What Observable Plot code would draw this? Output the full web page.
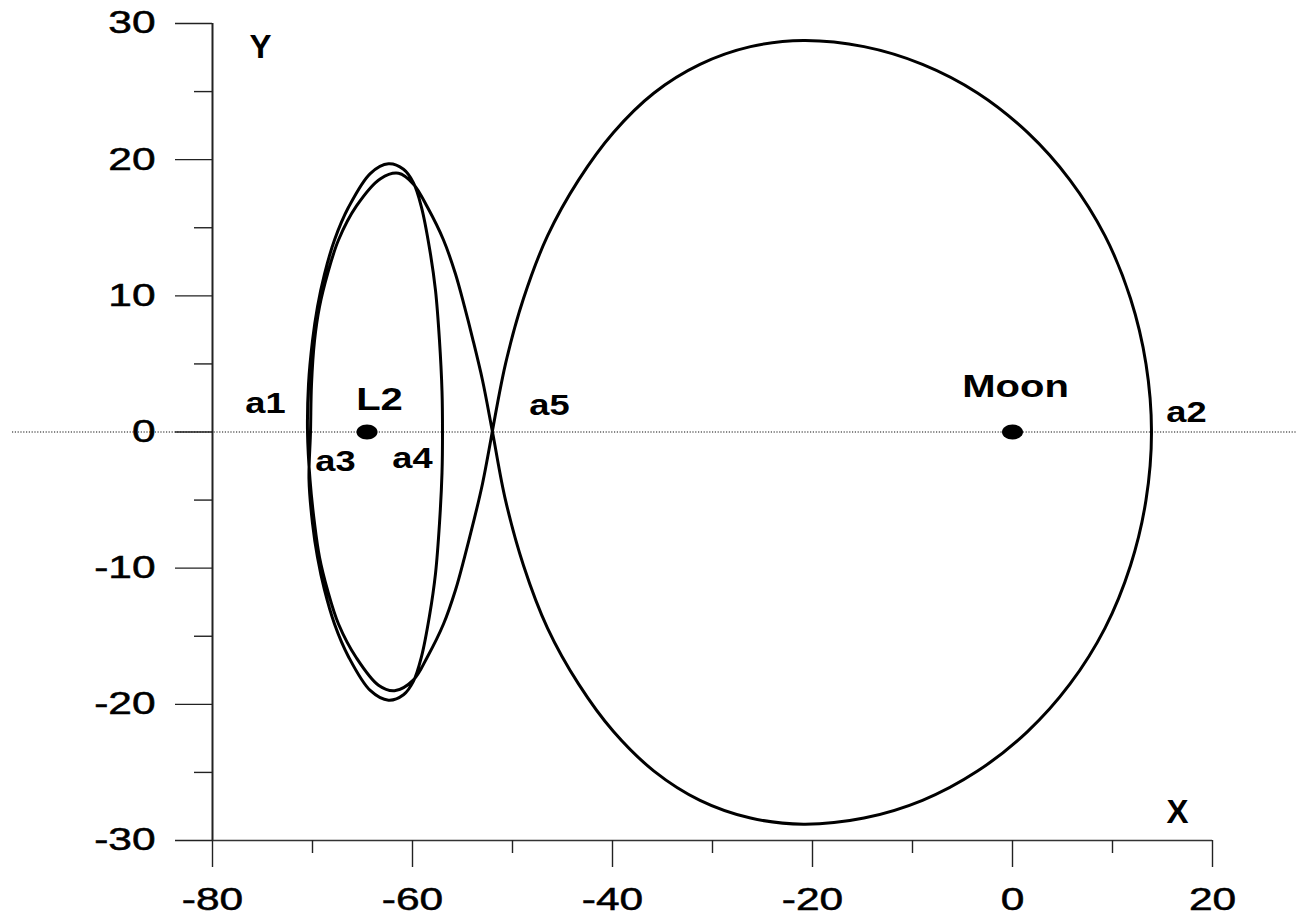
<!DOCTYPE html>
<html>
<head>
<meta charset="utf-8">
<script src="https://cdn.jsdelivr.net/npm/d3@7"></script>
<script src="https://cdn.jsdelivr.net/npm/@observablehq/plot@0.6"></script>
<style>
  html, body { margin: 0; padding: 0; background: #fff; }
  svg { display: block; }
</style>
</head>
<body>
<div id="chart"></div>
<script>
// Trajectory in the Earth–Moon rotating frame (units: 10^3 km, Moon at origin).
// The path is one closed curve, listed leg by leg starting at the crossing a5.

// a5 -> up and to the left, over the lower top of the L2 loop
const branchUp = [
  [-52.0, 0], [-53.0, 3.8], [-54.0, 6.9], [-54.8, 9.2], [-55.7, 11.6],
  [-56.9, 14.1], [-58.5, 16.5], [-59.9, 18.2], [-61.4, 19.0]
];
// down the left side through a3 to the lower bottom
const leftPassA3 = [
  [-63.2, 18.6], [-65.6, 16.6], [-67.4, 14.1], [-68.5, 11.6], [-69.3, 9.2],
  [-69.8, 6.7], [-70.1, 3.5], [-70.2, 0], [-70.35, -3.5], [-70.0, -6.7],
  [-69.5, -9.2], [-68.8, -11.6], [-67.8, -14.1], [-66.4, -16.5], [-64.2, -19.0],
  [-62.4, -19.7]
];
// up the right side through a4 to the higher top
const rightPassA4 = [
  [-60.9, -19.3], [-59.9, -18.3], [-59.1, -16.5], [-58.3, -13.5], [-57.7, -10.4],
  [-57.3, -6.7], [-57.05, -3.0], [-57.0, 0], [-57.05, 3.0], [-57.3, 6.7],
  [-57.7, 10.4], [-58.3, 13.5], [-59.1, 16.5], [-59.9, 18.3], [-60.9, 19.3],
  [-62.4, 19.7]
];
// down the left side again through a1
const leftPassA1 = [
  [-64.2, 19.0], [-66.4, 16.5], [-67.8, 14.1], [-68.8, 11.6], [-69.5, 9.2],
  [-70.0, 6.7], [-70.4, 3.5], [-70.5, 0], [-70.25, -3.5], [-69.8, -6.7],
  [-69.3, -9.2], [-68.5, -11.6], [-67.4, -14.1], [-65.6, -16.6], [-63.4, -18.6],
  [-61.8, -19.0]
];
// back up to the crossing a5
const branchDown = [
  [-59.9, -18.2], [-58.5, -16.5], [-56.9, -14.1], [-55.7, -11.6], [-54.8, -9.2],
  [-54.0, -6.9], [-53.0, -3.8]
];
// the large loop around the Moon through a2
const moonLoop = [
  [-52.0, 0], [-50.7, 5.0], [-48.9, 9.8], [-46.5, 14.4], [-43.4, 18.5],
  [-39.9, 22.0], [-35.85, 24.9], [-31.25, 27.0], [-26.2, 28.3], [-20.9, 28.75],
  [-14.85, 28.3], [-9.0, 27.0], [-3.5, 24.9], [1.5, 22.0], [5.75, 18.5],
  [9.25, 14.4], [11.8, 9.8], [13.35, 5.0], [13.9, 0],
  [13.35, -5.0], [11.8, -9.8], [9.25, -14.4], [5.75, -18.5], [1.5, -22.0],
  [-3.5, -24.9], [-9.0, -27.05], [-14.85, -28.35], [-20.9, -28.8], [-26.2, -28.35],
  [-31.25, -27.05], [-35.85, -24.9], [-39.9, -22.0], [-43.4, -18.5], [-46.5, -14.4],
  [-48.9, -9.8], [-50.7, -5.0]
];

// Bodies marked on the x axis
const bodyNames = ["L2", "Moon"];
const bodyX = [-64.55, 0];
const bodyY = [0, 0];

// Point labels
const labelNames = ["a1", "L2", "a3", "a4", "a5", "Moon", "a2"];
const labelX = [-74.7, -63.3, -67.7, -60.0, -46.3, 0.3, 17.4];
const labelY = [2.1, 2.35, -2.15, -1.95, 1.95, 3.35, 1.4];

// Axis names
const axisNames = ["Y", "X"];
const axisNameX = [-75.2, 16.5];
const axisNameY = [28.25, -27.95];

// Ticks
const xTicks = [-80, -60, -40, -20, 0, 20];
const xMinorTicks = [-70, -50, -30, -10, 10];
const yTicks = [-30, -20, -10, 0, 10, 20, 30];
const yMinorTicks = [-25, -15, -5, 5, 15, 25];

// Closed path: the last leg (moonLoop minus its start) returns to a5
const path = [
  ...branchUp, ...leftPassA3, ...rightPassA4, ...leftPassA1, ...branchDown,
  ...moonLoop.slice(1)
].map(([x, y]) => ({x, y}));

const bodies = bodyNames.map((name, i) => ({name, x: bodyX[i], y: bodyY[i]}));
const labels = labelNames.map((name, i) => ({name, x: labelX[i], y: labelY[i]}));
const axisLabels = axisNames.map((name, i) => ({name, x: axisNameX[i], y: axisNameY[i]}));

// Flattened marker for the bodies
const flatDisc = {
  draw(context) {
    const rx = 10.5, ry = 7.5, k = 0.5523;
    context.moveTo(rx, 0);
    context.bezierCurveTo(rx, k * ry, k * rx, ry, 0, ry);
    context.bezierCurveTo(-k * rx, ry, -rx, k * ry, -rx, 0);
    context.bezierCurveTo(-rx, -k * ry, -k * rx, -ry, 0, -ry);
    context.bezierCurveTo(k * rx, -ry, rx, -k * ry, rx, 0);
    context.closePath();
  }
};

const font = "'Liberation Sans', Arial, Helvetica, sans-serif";

const chart = Plot.plot({
  width: 1297,
  height: 917,
  marginLeft: 212,
  marginRight: 85,
  marginTop: 23,
  marginBottom: 77,
  style: {background: "#fff", fontFamily: font, color: "#000", overflow: "visible"},
  x: {domain: [-80, 20]},
  y: {domain: [-30, 30]},
  marks: [
    // dotted x = 0 reference line across the whole figure
    Plot.ruleY([0], {x1: -100, x2: 28.5, stroke: "#111", strokeWidth: 1.2, strokeDasharray: "1.2,1.6"}),
    // axis lines
    Plot.ruleX([-80], {y1: -30, y2: 30, stroke: "#222", strokeWidth: 2}),
    Plot.ruleY([-30], {x1: -80, x2: 20, stroke: "#333", strokeWidth: 1.6}),
    // y ticks
    Plot.axisY({ticks: yTicks, tickSize: 37, tickPadding: 20, fontSize: 31, stroke: "#222", strokeWidth: 1.4,
      tickFormat: d => String(d), label: null}),
    Plot.axisY({ticks: yMinorTicks, tickSize: 18, stroke: "#222", strokeWidth: 1.4, text: null, label: null}),
    // x ticks
    Plot.axisX({ticks: xTicks, tickSize: 27, tickPadding: 20, fontSize: 31, stroke: "#222", strokeWidth: 1.4,
      tickFormat: d => String(d), label: null}),
    Plot.axisX({ticks: xMinorTicks, tickSize: 13, stroke: "#222", strokeWidth: 1.4, text: null, label: null}),
    // trajectory
    Plot.line(path, {x: "x", y: "y", curve: "catmull-rom-closed", stroke: "#000", strokeWidth: 3}),
    // L2 and Moon
    Plot.dot(bodies, {x: "x", y: "y", symbol: flatDisc, fill: "#000", stroke: "none", r: 5}),
    // labels
    Plot.text(labels, {x: "x", y: "y", text: "name", fontSize: d => (d.name === "L2" || d.name === "Moon") ? 32 : 29,
      fontWeight: "bold", fill: "#000", textAnchor: "middle", lineAnchor: "middle"}),
    Plot.text(axisLabels, {x: "x", y: "y", text: "name", fontSize: 33, fontWeight: "bold", fill: "#000",
      textAnchor: "middle", lineAnchor: "middle"})
  ]
});

document.getElementById("chart").append(chart);

// Widen the lettering of tick labels and point labels
function widen(texts, factor, weight) {
  texts.forEach(t => {
    const len = t.getComputedTextLength();
    t.setAttribute("textLength", (len * factor).toFixed(2));
    t.setAttribute("lengthAdjust", "spacingAndGlyphs");
    if (weight) {
      t.setAttribute("stroke", "#000");
      t.setAttribute("stroke-width", weight);
    }
  });
}
widen(chart.querySelectorAll('g[aria-label="y-axis tick label"] text, g[aria-label="x-axis tick label"] text'), 1.37, 0.5);
widen([...chart.querySelectorAll("text")].filter(t => labelNames.includes(t.textContent)), 1.25);
</script>
</body>
</html>
